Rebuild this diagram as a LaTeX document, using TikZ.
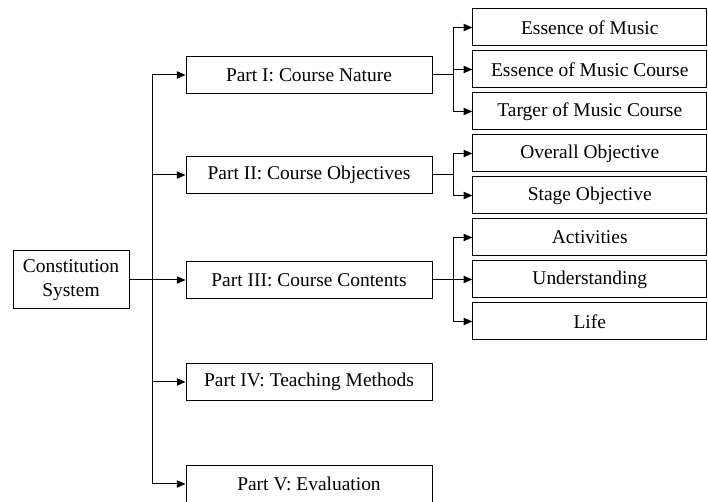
\documentclass[tikz,border=0pt]{standalone}
\usepackage{fontspec}
\setmainfont{Liberation Serif}
\usetikzlibrary{arrows.meta,positioning}

\begin{document}
\begin{tikzpicture}[x=0.75pt, y=0.75pt, line width=0.75pt, node distance=3pt,
    box/.style={draw, rectangle, minimum height=27.75pt, inner sep=0pt, font=\fontsize{14.6}{17.5}\selectfont},
    part/.style={box, minimum width=184.5pt},
    leaf/.style={box, minimum width=175.5pt},
    link/.style={-{Triangle[length=6.5pt,width=5.5pt]}}]
    \useasboundingbox (0,0) rectangle (708,502);

    \node[box, minimum width=87pt, minimum height=43.5pt, align=center] (sys) at (71,222) {Constitution\\System};

    \node[part] (nature) at (309,427) {Part I: Course Nature};
    \node[part] (objectives) at (309,327) {Part II: Course Objectives};
    \node[part] (contents) at (309,222) {Part III: Course Contents};
    \node[part] (methods) at (309,120) {Part IV: Teaching Methods};
    \node[part] (evaluation) at (309,18) {Part V: Evaluation};

    \node[leaf] (music) at (589.75,474.5) {Essence of Music};
    \node[leaf, below=of music] (musiccourse) {Essence of Music Course};
    \node[leaf, below=of musiccourse] (target) {Targer of Music Course};
    \node[leaf, below=of target] (overall) {Overall Objective};
    \node[leaf, below=of overall] (stage) {Stage Objective};
    \node[leaf, below=of stage] (activities) {Activities};
    \node[leaf, below=of activities] (understanding) {Understanding};
    \node[leaf, below=of understanding] (life) {Life};

    \coordinate (trunk) at (152,222);
    \draw (sys.east) -- (trunk);
    \draw (trunk |- nature) -- (trunk |- evaluation);
    \foreach \p in {nature,objectives,contents,methods,evaluation}
        \draw[link] (trunk |- \p) -- (\p.west);

    \coordinate (fork) at (453,0);
    \draw (nature.east) -- (fork |- nature);
    \draw (fork |- music) -- (fork |- target);
    \foreach \l in {music,musiccourse,target}
        \draw[link] (fork |- \l) -- (\l.west);

    \draw (objectives.east) -- (fork |- objectives);
    \draw (fork |- overall) -- (fork |- stage);
    \foreach \l in {overall,stage}
        \draw[link] (fork |- \l) -- (\l.west);

    \draw (contents.east) -- (fork |- contents);
    \draw (fork |- activities) -- (fork |- life);
    \foreach \l in {activities,understanding,life}
        \draw[link] (fork |- \l) -- (\l.west);
\end{tikzpicture}
\end{document}
